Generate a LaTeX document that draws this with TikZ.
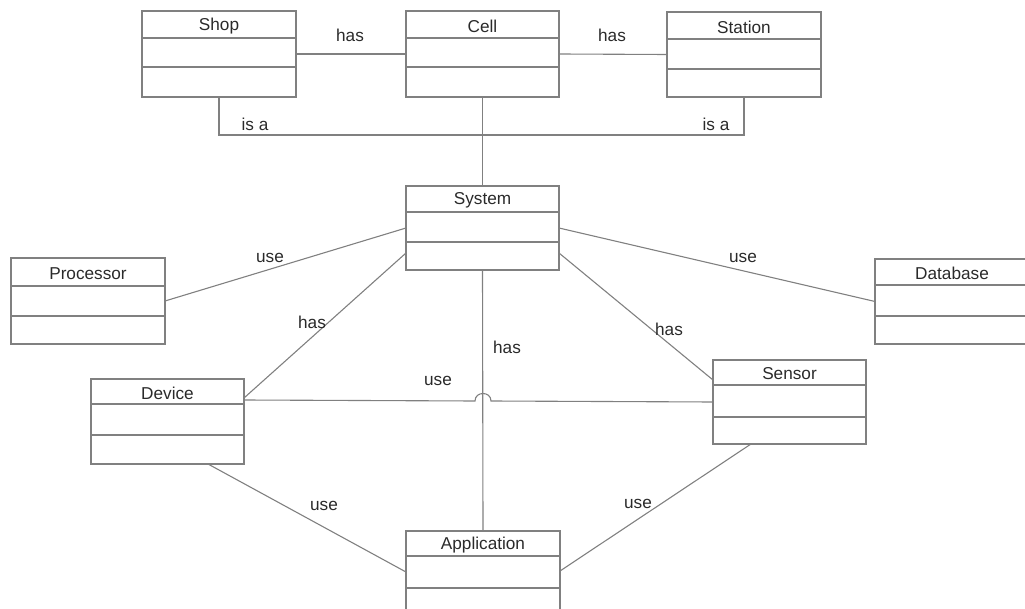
\documentclass[tikz,border=0pt]{standalone}
\usepackage{fontspec}
\setmainfont{Liberation Sans}
\usetikzlibrary{calc}
\definecolor{linec}{HTML}{808080}
\definecolor{textc}{HTML}{2A2A2A}
\tikzset{
  umlbox/.style={draw=linec, line width=1.2pt, inner sep=0pt, outer sep=0pt, rectangle},
  conn/.style={draw=linec, line width=1.1pt},
  lbl/.style={text=textc, font=\fontsize{17.2}{20}\selectfont, inner sep=0pt},
}
\newcommand\umlclass[8]{%
  \node[umlbox, minimum width=#4pt, minimum height=#5pt] (#1) at (#2,#3) {};
  \node[lbl] (#1-title) at ($(#1.north)+(0,#6/2+1.5)$) {#8};
  \draw[conn] ($(#1.north west)+(0,#6)$) -- ($(#1.north east)+(0,#6)$);
  \draw[conn] ($(#1.north west)+(0,#7)$) -- ($(#1.north east)+(0,#7)$);
}
\begin{document}
\begin{tikzpicture}[x=1pt, y=-1pt]
\useasboundingbox (0,0) rectangle (1025,609);
% classes
\umlclass{shop}{219}{54}{154}{86}{27}{56}{Shop}
\umlclass{cell}{482.5}{54}{153}{86}{27}{56}{Cell}
\umlclass{station}{744}{54.5}{154}{85}{27}{57}{Station}
\umlclass{system}{482.5}{228}{153}{84}{26}{56}{System}
\umlclass{processor}{88}{301}{154}{86}{28}{58}{Processor}
\umlclass{database}{952}{301.5}{154}{85}{26}{57}{Database}
\umlclass{device}{167.5}{421.5}{153}{85}{25}{56}{Device}
\umlclass{sensor}{789.5}{402}{153}{84}{25}{57}{Sensor}
\umlclass{application}{483}{574}{154}{86}{25}{57}{Application}
% connectors
\draw[conn] (shop.east) -- (cell.west);
\draw[conn] (cell.east) -- (station.west);
\draw[conn] (shop.south) -- ++(0,38) -| (station.south);
\draw[conn] (cell.south) -- (system.north);
\draw[conn] (processor.east) -- (system.west);
\draw[conn] (system.east) -- (database.west);
\draw[conn] ($(system.south west)+(0,-17)$) -- ($(device.north east)+(0,19)$);
\draw[conn] ($(system.south east)+(0,-17)$) -- ($(sensor.north west)+(0,20)$);
\draw[conn] (system.south) -- (application.north);
\draw[conn] ($(device.north east)+(0,21)$) -- (475,401)
   .. controls (475,391) and (491,391) .. (491,401) -- ($(sensor.north west)+(0,42)$);
\draw[conn] ($(device.south west)+(117,0)$) -- ($(application.north west)+(0,41)$);
\draw[conn] ($(sensor.south west)+(38,0)$) -- ($(application.north east)+(0,40)$);
% labels
\node[lbl] (l-has1) at (350,35) {has};
\node[lbl] (l-has2) at (612,35) {has};
\node[lbl] (l-isa1) at (255,124) {is a};
\node[lbl] (l-isa2) at (716,124) {is a};
\node[lbl] (l-use1) at (270,258) {use};
\node[lbl] (l-use2) at (743,258) {use};
\node[lbl] (l-has3) at (312,322) {has};
\node[lbl] (l-has4) at (507,347) {has};
\node[lbl] (l-has5) at (669,329) {has};
\node[lbl] (l-use3) at (438,381) {use};
\node[lbl] (l-use4) at (324,506) {use};
\node[lbl] (l-use5) at (638,504) {use};
\end{tikzpicture}
\end{document}
